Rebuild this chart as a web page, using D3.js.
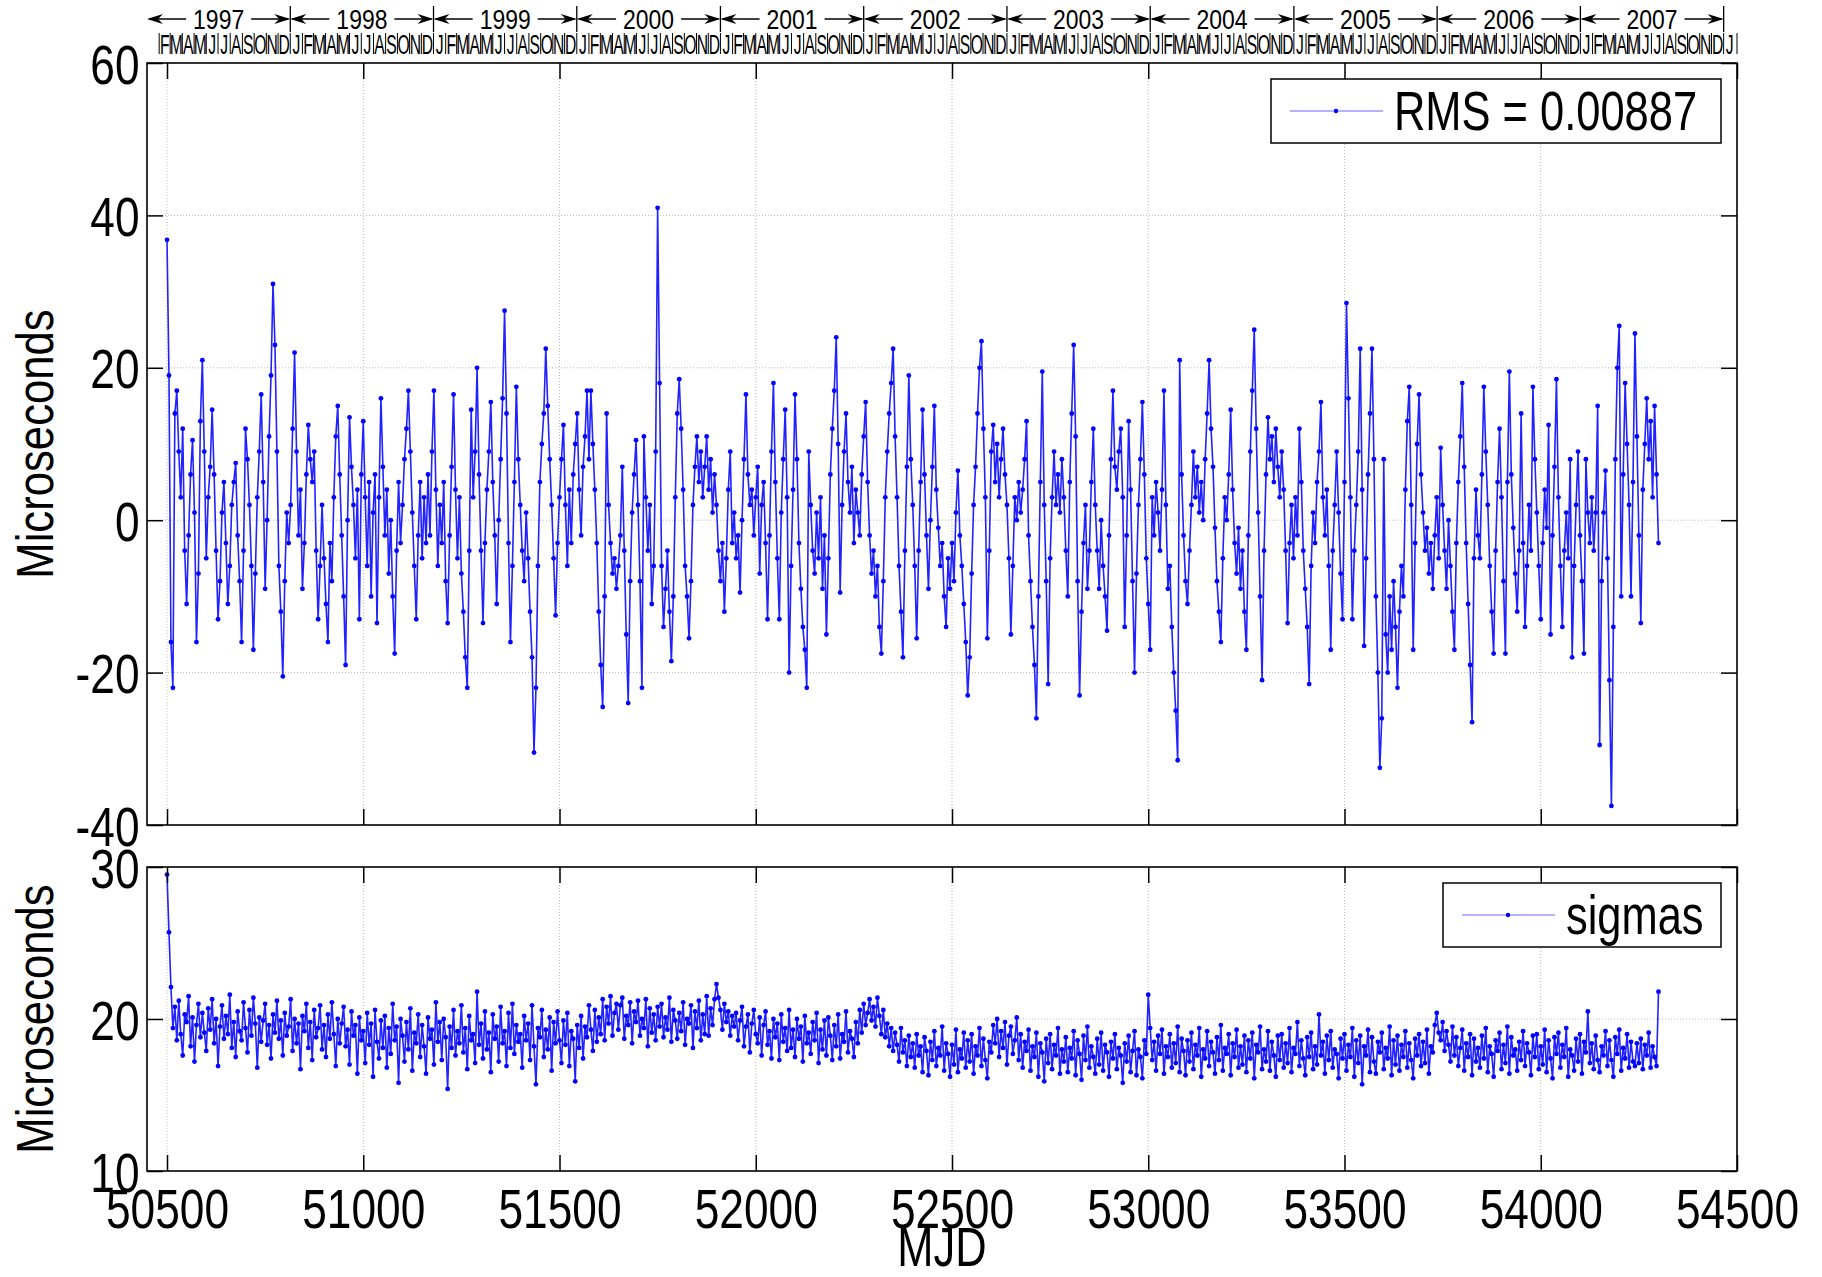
<!DOCTYPE html>
<meta charset="utf-8">
<script src="https://d3js.org/d3.v7.min.js"></script>
<style>
  body { margin: 0; background: #fff; }
</style>
<div id="chart"></div>
<script>
// ---- data (one value every 5 days from MJD 50500) ----
const mjdStart = 50500, mjdStep = 5;

const residuals = [
  36.8, 19, -16, -22, 14, 17, 9, 3, 12, -4,            // 50500
  -11, -2, 6, 10.5, 1, -16, -7, 13, 21, 9,
  -5, 3, 7, 14.5, 6, -4, -13, -8, 1, 5,
  -3, -11, -6, 2, 5, 7.5, -2, -8, -16, -4,
  12, 8, 2, -6, -17, -7, 3, 9, 16.5, 5,
  -9, 0, 11, 19, 31, 23, 9, -6, -12, -20.5,
  -8, 1, -3, 2, 12, 22, 9, -2, 4, -9,
  -3, 6, 12.5, 8, 5, 9, -4, -13, -6, 2,
  -5, -11, -16, -3, -8, 3, 11, 15, 6, -2,
  -10, -19, 0, 13.5, 7, 2, -5, 4, -13, 6,
  13, 3, -6, 5, -10, 1, 6, -13.5, 3, 16,             // 51000
  7, -2, 4, -7, 0, -10, -17.5, -4, 5, -3,
  2, 8, 12, 17, 9, 1, -6, -13, -2, 5,
  -5, 3, -3, 6, -2, 9, 17, 4, -6, 2,
  -3, 5, -8, -13.5, -2, 7, 16.5, 4, -5, 3,
  -7, -12, -18, -22, -4, 14.5, 3, 9, 20, 6,
  -4, -13.5, -3, 4, 9, 15.5, 5, -2, -11, 0,
  8, 16, 27.5, 14, -3, -16, -6, 5, 17.5, 8,
  2, -4, -8, 1, -5, -12, -18, -30.5, -22, -6,
  5, 10, 14, 22.5, 15, 8, 2, -5, -12.5, -3,
  3, 8, 12.5, 2, -6, 4, -3, 6, 10, 14,               // 51500
  4, -2, 7, 11, 17, 8, 17, 10, 4, -3,
  -12, -19, -24.5, -10, 14, 2, -3, -7, -5, -9,
  -6, -2, 7, -4, -15, -24, -8, 1, 6, 10.5,
  2, -8, -22, 11, 3, -4, 2, -11, -6, 9,
  41, 18, -6, -14, -9, -4, -12, -18.5, -10, 3,
  14, 18.5, 12, 4, -6, -10, -15.5, -8, 2, 7,
  11, 5, 9, 3, 7, 11, 4, 8, 1, 6,
  2, -4, -8, -3, -12, -5, 4, 9, -3, 1,
  -5, -2, -9.5, 0, 8, 16.5, 6, 2, 4, -2,
  3, 7, -7, 2, 5, -3, -13, -2, 9, 18,                // 52000
  5, -5, -13, 1, 8, 14.5, 3, -20, -6, 4,
  16.5, 8, -3, -9, -14, -17, -22, 9, 2, -4,
  -7, 1, -5, 3, -9, -2, -15, -5, 6, 12,
  17, 24, 10, -9.5, 2, 9, 14, 5, 1, 7,
  -3, 4, 1, -2, 6, 11, 15.5, 5, -2, -7,
  -4, -10, -6, -14, -17.5, -8, 3, 9, 14, 18,
  22.5, 11, 3, -6, -12, -18, -4, 7, 19, 8,
  2, -6, -15.5, -4, 5, 14.5, 6, -2, -9, 0,
  7, 15, 4, -1, -6, -3, -10, -14, -5, -9,
  -3, -8, 1, 6.5, -2, -6, -11, -16, -23, -18,        // 52500
  -7, 2, 7, 14, 20, 23.5, 12, 3, -15.5, -4,
  9, 12.5, 5, 10, 3, 8, 12, 6, 2, -5,
  -15, -6, 3, 0, 5, 1, 4, 8, 13, -2,
  -8, -14, -19, -26, -10, 5, 19.5, 2, -8, -21.5,
  -5, 3, 9, 2, 6, 1, 8, 3, -4, -10,
  5, 14, 23, 11, -8, -23, -12, -3, 2, -9,
  -4, 5, 12, 2, -4, -9, 0, -6, -10, -14.5,
  -2, 8, 17, 7, 4, 9, 12, 3, -14, -2,
  13, 4, -8, -20, -7, 2, 8, 15.5, 6, -5,
  -11, -17, 3, -2, 5, 1, -4, 4, 17, 2,               // 53000
  -9, -6, -14, -20, -25, -31.5, 21, 6, -2, -8,
  -11, -4, 2, 9, 3, 7, 1, 5, 0, 8,
  14, 21, 12, 7, -1, -8, -12, -16, -5, 3,
  0, 6, 14.5, 4, -3, -7, -1, -9, -4, -12,
  -17, -2, 9, 17, 25, 12, 1, -10, -21, -4,
  6, 13.5, 8, 11, 5, 12, 7, 3, 9, 4,
  -4, -13.5, -3, 2, -5, 3, -2, 12, 5, -4,
  -9, -14, -21.5, -6, 1, -3, 5, 9, 15.5, 3,
  -2, 4, -6, -17, -4, 2, 9, 1, -7, -13,
  5, 28.5, 16, 3, -13, -4, 2, 9, 22.5, 4,            // 53500
  -16.5, -5, 6, 14, 22.5, 8, -10, -20, -32.5, -26,
  8, -15, -20, -10, -17, -8, -14, -22, -12, -6,
  -10, 4, 13, 17.5, 2, -17, -3, 10, 16.5, 6,
  1, -4, -1, -7, -3, -9, -2, 3, -5, 9.5,
  2, -4, -9, 0, -6, -12, -17, -3, 5, 11,
  18, 7, -3, -11, -19, -26.5, -5, 4, -2, -5,
  6, 17.5, 9, 2, -6, -12, -17.5, -4, 5, 12,
  3, -8, -17.5, 5, 19.5, 6, -1, -7, -12, -4,
  14, -3, -14, -6, 2, -4, 17.5, 8, 1, -6,
  -13, -3, 4, -1, 12.5, -15, -2, 7, 18.5, 3,         // 54000
  -6, -14, -4, 1, -5, 8, -18, -6, 2, 9,
  -2, -8, -17.5, 8, 1, -3, 3, -4, 1, 15,
  -29.5, -8, 1, 6.5, -5, -21, -37.5, -14, 8, 20,
  25.5, -10, 6, 18, 10, 2, -10, 5, 24.5, 11,
  -2, -13.5, 4, 10, 16, 8, 13, 3, 15, 6, -3
];

const sigmas = [
  29.5, 25.7, 22.1, 19.4, 20.8, 18.6, 21.2, 19.0, 17.6, 20.3,   // 50500
  19.8, 21.5, 18.2, 20.1, 17.2, 19.6, 21.0, 18.8, 20.4, 19.1,
  17.9, 20.7, 19.3, 21.3, 18.4, 20.0, 16.9, 19.5, 20.9, 18.7,
  20.2, 19.0, 21.6, 18.1, 19.8, 17.5, 20.5, 19.2, 18.6, 21.1,
  19.4, 17.8, 20.6, 18.9, 21.4, 19.7, 16.8, 20.1, 18.5, 19.9,
  21.0, 18.3, 19.6, 17.4, 20.3, 19.1, 21.2, 18.7, 19.9, 17.6,
  20.4, 18.9, 19.5, 21.3, 17.9, 20.0, 18.4, 19.7, 16.7, 20.2,
  19.2, 21.0, 18.1, 19.8, 17.3, 20.6, 18.8, 19.4, 20.9, 18.0,
  19.6, 17.5, 20.3, 18.7, 21.1, 19.0, 16.9, 20.0, 18.4, 19.7,
  20.8, 18.2, 19.3, 17.0, 20.5, 18.9, 19.6, 16.4, 20.1, 18.6,
  19.2, 17.1, 20.4, 18.3, 19.7, 16.2, 20.6, 18.5, 17.4, 19.9,   // 51000
  18.1, 20.2, 16.8, 19.4, 17.7, 21.0, 18.6, 19.5, 15.8, 20.0,
  18.9, 17.2, 19.8, 18.0, 20.7, 16.6, 19.1, 18.4, 20.3, 17.5,
  19.6, 18.2, 16.4, 20.1, 18.7, 19.3, 17.0, 21.1, 18.5, 19.8,
  17.3, 20.0, 18.8, 15.4, 19.5, 18.1, 20.6, 17.6, 19.2, 18.4,
  20.9, 17.8, 19.4, 16.7, 20.2, 18.6, 19.0, 17.1, 21.8, 18.3,
  19.7, 17.4, 20.5, 18.0, 19.1, 16.5, 20.3, 18.7, 19.5, 17.2,
  20.8, 18.4, 19.2, 16.9, 20.4, 18.1, 21.0, 17.7, 19.6, 18.5,
  19.0, 16.8, 20.2, 18.6, 19.7, 17.3, 20.9, 18.2, 15.7, 19.4,
  18.8, 20.6, 17.5, 19.3, 18.0, 20.1, 16.6, 19.8, 18.4, 20.5,
  18.6, 17.1, 19.9, 18.3, 20.4, 16.9, 19.2, 18.7, 15.9, 19.6,   // 51500
  18.1, 20.2, 17.4, 19.5, 18.8, 20.9, 19.3, 17.9, 20.6, 18.5,
  20.1, 19.0, 21.3, 18.6, 20.8, 19.7, 21.5, 18.9, 20.4, 21.0,
  19.3, 20.9, 21.4, 18.7, 20.2, 19.6, 21.1, 18.4, 20.5, 19.8,
  21.2, 18.9, 20.0, 19.4, 21.3, 18.2, 20.7, 19.1, 20.3, 18.6,
  20.8, 19.5, 21.0, 18.8, 20.1, 19.3, 21.4, 18.5, 20.6, 19.9,
  18.7, 20.4, 19.2, 21.1, 18.3, 20.0, 19.7, 20.9, 18.1, 20.5,
  19.4, 21.2, 18.6, 20.3, 19.0, 21.5, 18.9, 20.7, 19.6, 21.3,
  22.3, 21.4, 20.6, 19.3, 21.0, 19.8, 20.5, 18.9, 20.2, 19.5,
  20.4, 18.6, 19.9, 20.8, 18.2, 19.5, 20.3, 17.8, 19.7, 20.6,
  19.0, 18.4, 20.1, 17.6, 19.6, 20.5, 18.3, 19.2, 17.4, 20.0,   // 52000
  18.8, 19.7, 17.3, 20.3, 18.5, 19.4, 17.9, 20.6, 18.1, 19.3,
  17.5, 20.0, 18.7, 19.5, 17.2, 20.2, 18.4, 19.1, 17.7, 19.8,
  18.6, 20.4, 17.1, 19.3, 18.0, 19.9, 17.6, 20.1, 18.9, 17.3,
  19.6, 18.2, 20.3, 17.4, 19.0, 18.5, 20.5, 17.8, 19.2, 18.7,
  17.5, 19.8, 18.4, 20.6, 19.1, 21.0, 19.6, 20.4, 21.3, 19.9,
  20.8, 19.5, 21.4, 20.2, 19.0, 20.6, 18.8, 19.7, 18.2, 19.4,
  17.9, 19.1, 18.3, 17.2, 19.4, 17.8, 18.6, 16.9, 18.9, 17.5,
  18.4, 16.8, 19.0, 17.6, 18.2, 16.5, 18.8, 17.9, 16.3, 18.5,
  17.3, 19.2, 16.9, 18.1, 17.6, 19.5, 16.6, 18.4, 17.7, 16.2,
  18.3, 17.0, 19.3, 16.5, 18.0, 17.4, 19.1, 16.8, 18.6, 17.2,   // 52500
  19.0, 16.4, 18.2, 17.6, 19.4, 16.9, 18.7, 17.3, 16.1, 18.5,
  17.8, 19.6, 18.4, 20.0, 17.5, 19.2, 18.1, 19.8, 17.0, 18.9,
  19.5, 17.7, 18.6, 20.1, 17.3, 19.0, 16.8, 18.5, 17.9, 19.3,
  16.6, 18.2, 17.5, 19.1, 16.2, 18.4, 17.8, 15.9, 18.7, 17.1,
  19.0, 16.7, 18.3, 17.6, 19.4, 16.4, 18.0, 17.2, 18.8, 16.5,
  18.1, 17.4, 19.2, 16.3, 18.6, 17.7, 16.0, 18.9, 17.3, 19.5,
  16.8, 18.2, 17.5, 16.4, 18.7, 17.0, 19.1, 16.6, 18.3, 17.8,
  16.2, 18.5, 17.4, 19.0, 16.7, 18.1, 17.6, 15.8, 18.4, 17.2,
  18.9, 16.5, 17.9, 19.2, 16.3, 18.0, 17.5, 16.1, 18.6, 17.7,
  21.6, 19.4, 17.3, 18.5, 16.6, 18.9, 17.7, 19.3, 16.4, 18.2,   // 53000
  17.5, 19.0, 16.8, 18.4, 17.1, 19.5, 16.5, 18.7, 17.9, 16.3,
  18.6, 17.2, 19.1, 16.7, 18.3, 17.6, 19.4, 16.2, 18.0, 17.4,
  19.2, 16.9, 18.5, 17.8, 16.4, 18.8, 17.3, 19.6, 16.6, 18.1,
  17.7, 19.0, 16.3, 18.4, 17.5, 19.3, 16.8, 18.2, 17.0, 18.9,
  16.5, 18.6, 17.4, 19.1, 16.1, 18.3, 17.8, 19.5, 16.7, 18.0,
  17.2, 19.2, 16.6, 18.5, 17.6, 16.2, 18.9, 17.3, 19.0, 16.8,
  18.4, 17.1, 19.4, 16.5, 18.1, 17.7, 19.8, 16.9, 18.6, 17.4,
  16.3, 18.8, 17.5, 19.1, 16.7, 18.2, 17.0, 20.3, 17.6, 18.5,
  16.4, 18.9, 17.3, 19.2, 16.8, 18.0, 17.7, 16.1, 18.7, 17.4,
  19.0, 16.6, 18.3, 17.5, 19.4, 16.2, 18.6, 17.1, 18.9, 15.7,   // 53500
  18.2, 17.6, 19.3, 16.5, 18.8, 17.2, 16.4, 18.5, 17.8, 19.1,
  16.7, 18.1, 17.4, 19.5, 16.3, 18.6, 17.0, 18.9, 16.6, 18.3,
  17.5, 19.2, 16.8, 18.4, 17.3, 16.1, 18.7, 17.6, 19.0, 16.9,
  18.5, 17.1, 19.3, 16.4, 18.2, 17.8, 19.6, 20.4, 19.1, 18.6,
  19.8, 17.9, 19.2, 18.3, 17.2, 19.5, 17.6, 18.8, 16.9, 18.1,
  19.3, 16.6, 18.4, 17.5, 19.0, 16.3, 18.7, 17.2, 18.1, 16.8,
  18.9, 17.4, 19.4, 16.5, 18.2, 17.7, 16.2, 18.6, 17.9, 19.1,
  16.7, 18.3, 17.1, 19.5, 16.4, 18.8, 17.6, 18.0, 16.6, 18.5,
  17.3, 19.2, 16.9, 18.4, 17.8, 16.3, 18.9, 17.5, 19.0, 16.7,
  18.2, 17.0, 19.3, 16.5, 18.6, 17.4, 16.1, 18.8, 17.7, 19.1,   // 54000
  16.8, 18.3, 17.5, 19.4, 16.2, 18.0, 17.6, 16.6, 18.7, 17.2,
  19.0, 16.4, 18.5, 17.8, 20.5, 17.1, 18.4, 16.7, 18.9, 17.3,
  16.5, 18.2, 17.6, 19.2, 16.9, 18.6, 17.3, 16.2, 18.8, 17.7,
  19.3, 16.6, 18.1, 17.4, 19.0, 16.8, 18.5, 17.2, 16.9, 18.4,
  17.1, 18.7, 16.7, 18.3, 17.6, 19.1, 16.8, 18.2, 17.5, 16.9, 21.8
];

const xTicks = [50500, 51000, 51500, 52000, 52500, 53000, 53500, 54000, 54500];
const xGrid = [50500, 51000, 51500, 52000, 52500, 53000, 53500, 54000];
const yTicksTop = [-40, -20, 0, 20, 40, 60];
const yGridTop = [-20, 0, 20, 40];
const yTicksBottom = [10, 20, 30];
const yGridBottom = [20];
const years = [1997, 1998, 1999, 2000, 2001, 2002, 2003, 2004, 2005, 2006, 2007];
const monthLetters = ["J", "F", "M", "A", "M", "J", "J", "A", "S", "O", "N", "D"];
const legendTop = "RMS = 0.00887";
const legendBottom = "sigmas";
const yLabel = "Microseconds";
const xLabel = "MJD";

// ---- layout ----
const W = 1822, H = 1277;
const plotL = 147, plotR = 1737;
const top1 = 63, bot1 = 825, top2 = 867, bot2 = 1171;
const FONT = '"Liberation Sans", Arial, Helvetica, sans-serif';
const SQ = 0.79;   // horizontal squeeze of the big labels
const BLUE = "#0000ff";

const svg = d3.select("#chart")
  .append("svg")
    .attr("width", W)
    .attr("height", H)
    .style("background", "#fff");

const x = d3.scaleLinear().domain([50449, 54500]).range([plotL, plotR]);
const y1 = d3.scaleLinear().domain([-40, 60]).range([bot1, top1]);
const y2 = d3.scaleLinear().domain([10, 30]).range([bot2, top2]);

const mjdOf = i => mjdStart + i * mjdStep;
const toMJD = (yr, mo) => Date.UTC(yr, mo, 1) / 86400000 + 40587;
const plain = d => String(d);   // hyphen minus, as in the original

function panel(yScale, yTicks, yGrid, series, yTop, yBot, showXLabels) {
  const g = svg.append("g");

  // grid
  g.selectAll("line.gx").data(xGrid).join("line")
      .attr("class", "gx")
      .attr("x1", d => x(d)).attr("x2", d => x(d))
      .attr("y1", yTop).attr("y2", yBot)
      .attr("stroke", "#b8b8b8").attr("stroke-width", 1)
      .attr("stroke-dasharray", "1,2");
  g.selectAll("line.gy").data(yGrid).join("line")
      .attr("class", "gy")
      .attr("x1", plotL).attr("x2", plotR)
      .attr("y1", d => yScale(d)).attr("y2", d => yScale(d))
      .attr("stroke", "#b8b8b8").attr("stroke-width", 1)
      .attr("stroke-dasharray", "1,2");

  // series
  g.append("path")
      .datum(series)
      .attr("fill", "none")
      .attr("stroke", "#2222ff")
      .attr("stroke-width", 1.6)
      .attr("stroke-linejoin", "round")
      .attr("d", d3.line()
        .x((d, i) => x(mjdOf(i)))
        .y(d => yScale(d)));
  g.selectAll("circle.pt").data(series).join("circle")
      .attr("class", "pt")
      .attr("cx", (d, i) => x(mjdOf(i)))
      .attr("cy", d => yScale(d))
      .attr("r", 2.4)
      .attr("fill", BLUE);

  // axes, ticks pointing inward
  const styleText = sel => sel.selectAll("text")
      .attr("font-family", FONT).attr("font-size", 56).attr("fill", "#000");

  const bottom = g.append("g")
      .attr("transform", `translate(0,${yBot})`)
      .call(d3.axisBottom(x).tickValues(xTicks).tickSizeInner(-16).tickSizeOuter(0)
        .tickFormat(showXLabels ? plain : ""));
  g.append("g")
      .attr("transform", `translate(0,${yTop})`)
      .call(d3.axisTop(x).tickValues(xTicks).tickSizeInner(-16).tickSizeOuter(0).tickFormat(""));
  const left = g.append("g")
      .attr("transform", `translate(${plotL},0)`)
      .call(d3.axisLeft(yScale).tickValues(yTicks).tickSizeInner(-16).tickSizeOuter(0)
        .tickFormat(plain));
  g.append("g")
      .attr("transform", `translate(${plotR},0)`)
      .call(d3.axisRight(yScale).tickValues(yTicks).tickSizeInner(-16).tickSizeOuter(0).tickFormat(""));

  g.selectAll(".domain").remove();
  g.selectAll(".tick line").attr("stroke", "#000").attr("stroke-width", 1.5);

  styleText(bottom);
  bottom.selectAll("text")
      .attr("y", 57).attr("dy", null)
      .attr("transform", `scale(${SQ},1)`);
  styleText(left);
  left.selectAll("text")
      .attr("x", -7.5 / SQ).attr("dy", "0.36em")
      .attr("transform", `scale(${SQ},1)`);

  // box
  g.append("rect")
      .attr("x", plotL).attr("y", yTop)
      .attr("width", plotR - plotL).attr("height", yBot - yTop)
      .attr("fill", "none").attr("stroke", "#000").attr("stroke-width", 1.6);

  // y label
  svg.append("text")
      .attr("transform", `translate(53,${(yTop + yBot) / 2}) rotate(-90) scale(0.84,1)`)
      .attr("text-anchor", "middle")
      .attr("font-family", FONT).attr("font-size", 52)
      .text(yLabel);
}

function legend(x0, y0, w, h, label) {
  const g = svg.append("g");
  g.append("rect")
      .attr("x", x0).attr("y", y0).attr("width", w).attr("height", h)
      .attr("fill", "#fff").attr("stroke", "#000").attr("stroke-width", 1.5);
  const cy = y0 + h / 2;
  g.append("line")
      .attr("x1", x0 + 19).attr("x2", x0 + 112).attr("y1", cy).attr("y2", cy)
      .attr("stroke", BLUE).attr("stroke-width", 0.6);
  g.append("circle")
      .attr("cx", x0 + 65).attr("cy", cy).attr("r", 2.2).attr("fill", BLUE);
  g.append("text")
      .attr("transform", `translate(${x0 + 123},${cy + 19}) scale(${SQ},1)`)
      .attr("font-family", FONT).attr("font-size", 55)
      .text(label);
}

panel(y1, yTicksTop, yGridTop, residuals, top1, bot1, false);
panel(y2, yTicksBottom, yGridBottom, sigmas, top2, bot2, true);

legend(1271, 79, 450, 64, legendTop);
legend(1443, 883, 278, 64, legendBottom);

svg.append("text")
    .attr("transform", `translate(${(plotL + plotR) / 2},1266) scale(${SQ},1)`)
    .attr("text-anchor", "middle")
    .attr("font-family", FONT).attr("font-size", 55)
    .text(xLabel);

// ---- calendar strip above the top panel ----
const cal = svg.append("g");
const arrowY = 19;

function arrowHead(xTip, dir) {
  // dir = -1 points left, +1 points right
  cal.append("path")
      .attr("d", `M${xTip},${arrowY} L${xTip - dir * 16},${arrowY - 5} L${xTip - dir * 11},${arrowY} L${xTip - dir * 16},${arrowY + 5} Z`)
      .attr("fill", "#000");
}

years.forEach(yr => {
  const a = x(toMJD(yr, 0)), b = x(toMJD(yr + 1, 0));
  const mid = (a + b) / 2;
  const t = cal.append("text")
      .attr("transform", `translate(${mid},${arrowY + 10}) scale(0.85,1)`)
      .attr("text-anchor", "middle")
      .attr("font-family", FONT).attr("font-size", 27)
      .text(yr);
  const half = t.node().getComputedTextLength() * 0.85 / 2 + 7;
  cal.append("line")
      .attr("x1", a + 2).attr("x2", mid - half).attr("y1", arrowY).attr("y2", arrowY)
      .attr("stroke", "#000").attr("stroke-width", 1.3);
  cal.append("line")
      .attr("x1", mid + half).attr("x2", b - 2).attr("y1", arrowY).attr("y2", arrowY)
      .attr("stroke", "#000").attr("stroke-width", 1.3);
  arrowHead(a, -1);
  arrowHead(b, 1);
  cal.append("line")
      .attr("x1", b).attr("x2", b).attr("y1", 6).attr("y2", 32)
      .attr("stroke", "#000").attr("stroke-width", 1.3);
});

// month letters
const months = [];
years.concat([2008]).forEach(yr => {
  monthLetters.forEach((m, mo) => {
    if ((yr === 1997 && mo === 0) || (yr === 2008 && mo > 0)) return;
    months.push({ yr, mo, letter: m });
  });
});
months.forEach(d => {
  const a = x(toMJD(d.yr, d.mo));
  const b = Math.min(x(toMJD(d.yr, d.mo + 1)), plotR);
  cal.append("line")
      .attr("x1", a).attr("x2", a).attr("y1", 33).attr("y2", 54)
      .attr("stroke", "#000").attr("stroke-width", 1);
  cal.append("text")
      .attr("transform", `translate(${(a + b) / 2},54) scale(0.58,1)`)
      .attr("text-anchor", "middle")
      .attr("font-family", FONT).attr("font-size", 27)
      .text(d.letter);
});
cal.append("line")
    .attr("x1", plotR).attr("x2", plotR).attr("y1", 33).attr("y2", 54)
    .attr("stroke", "#000").attr("stroke-width", 1);
</script>
